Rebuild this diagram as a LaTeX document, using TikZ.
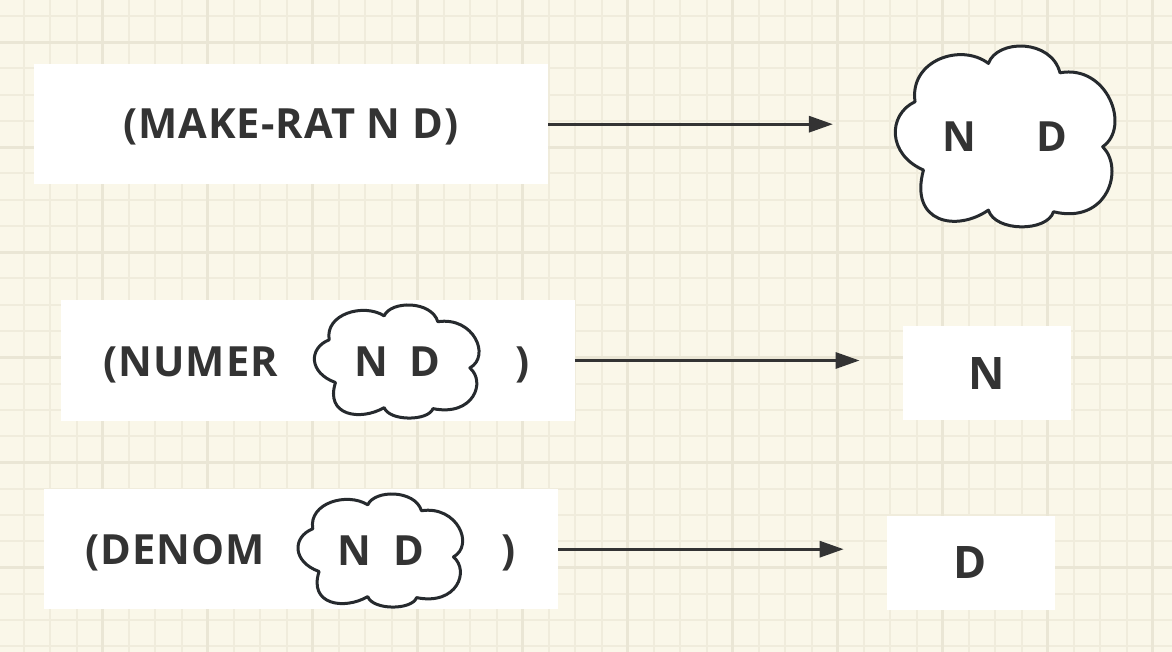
\documentclass[tikz,border=0pt]{standalone}
\usepackage{fontspec}
\setmainfont{Open Sans}
\usepackage{tikz}
\usepackage{xcolor}
\usetikzlibrary{arrows.meta}
\definecolor{paper}{RGB}{250,247,233}
\definecolor{gridthin}{RGB}{240,236,220}
\definecolor{gridthick}{RGB}{234,230,213}
\definecolor{ink}{RGB}{51,51,51}
\definecolor{cloudink}{RGB}{38,42,46}
\tikzstyle{whitebox} = [rectangle, fill=white, inner sep=0pt, minimum width=257pt, minimum height=60.25pt]
\tikzstyle{smwhitebox} = [rectangle, fill=white, inner sep=0pt, minimum width=84pt, minimum height=47pt,
text=ink, font=\bfseries\fontsize{22.4}{26}\selectfont, text height=16pt, text depth=0pt]
\tikzstyle{word} = [text=ink, font=\bfseries\fontsize{20.8}{24}\selectfont\addfontfeature{LetterSpace=2.5},
inner sep=0pt, text height=14.8pt, text depth=0pt]
\tikzstyle{arrow} = [line width=1.5pt, draw=ink, -{Triangle[length=12pt, width=8pt]}]
\tikzstyle{cloudline} = [draw=cloudink, fill=white, line width=1.5pt, line join=round]
\tikzstyle{thinrule} = [draw=gridthin, line width=1pt]
\tikzstyle{thickrule} = [draw=gridthick, line width=1.4pt]
\newcommand{\ndcloud}[3]{%
  \draw[cloudline, shift={#1}, xscale=#2, yscale=#3]
    (-0.412,-0.192) .. controls (-0.44,-0.42) and (-0.20,-0.52) .. (-0.072,-0.404)
    .. controls (-0.03,-0.54) and (0.22,-0.54) .. (0.26,-0.352)
    .. controls (0.48,-0.40) and (0.59,-0.05) .. (0.458,0.057)
    .. controls (0.56,0.18) and (0.48,0.49) .. (0.23,0.417)
    .. controls (0.20,0.53) and (-0.04,0.53) .. (-0.072,0.408)
    .. controls (-0.22,0.53) and (-0.44,0.48) .. (-0.373,0.186)
    .. controls (-0.54,0.10) and (-0.54,-0.12) .. (-0.412,-0.192) -- cycle;}
\begin{document}
\begin{tikzpicture}[x=0.5pt, y=-0.5pt]
        \useasboundingbox (0,0) rectangle (1172,652);

        % Grid paper
        \fill[paper] (0,0) rectangle (1172,652);
        \foreach \i in {0,...,43} \draw[thinrule] ({24+26.25*\i},0) -- ++(0,652);
        \foreach \j in {0,...,24} \draw[thinrule] (0,{16+26.25*\j}) -- ++(1172,0);
        \foreach \i in {0,...,10} \draw[thickrule] ({102.75+105*\i},0) -- ++(0,652);
        \foreach \j in {0,...,5} \draw[thickrule] (0,{42.25+105*\j}) -- ++(1172,0);

        % Boxes
        \node[whitebox] (makebox) at (290.8,124.2) {};
        \node[whitebox] (numerbox) at (317.5,360.5) {};
        \node[whitebox] (denombox) at (301,549.2) {};
        \node[smwhitebox] (nbox) at (986.7,373) {N};
        \node[smwhitebox] (dbox) at (970.5,562.5) {D};

        % Clouds
        \ndcloud{(1003.9,136.4)}{215.7}{180.7}
        \ndcloud{(395.8,361.5)}{161.7}{113}
        \ndcloud{(379.4,550.5)}{161.7}{113}
        \node[word, minimum width=107.85pt, minimum height=90.35pt] (bigcloud) at (1004.9,136.4) {N\hspace{30.5pt}D};
        \node[word] (numercloud) at (397.5,361.3) {N\hspace{11pt}D};
        \node[word] (denomcloud) at (381.1,550.3) {N\hspace{11pt}D};

        % Text Labels
        \node[word] (maketext) at (makebox) {(MAKE-RAT N D)};
        \node[word, anchor=west] (numertext) at (103,361.3) {(NUMER};
        \node[word, anchor=west] (numerclose) at (515,361.3) {)};
        \node[word, anchor=west] (denomtext) at (85,550) {(DENOM};
        \node[word, anchor=west] (denomclose) at (501,550) {)};

        % Arrows
        \draw[arrow, shorten >=31.85pt] (makebox.east) -- (makebox.east -| bigcloud.west);
        \draw[arrow, shorten >=21.35pt] (numerbox.east) -- (numerbox.east -| nbox.west);
        \draw[arrow, shorten >=21.2pt] (denombox.east) -- (denombox.east -| dbox.west);

\end{tikzpicture}
\end{document}
